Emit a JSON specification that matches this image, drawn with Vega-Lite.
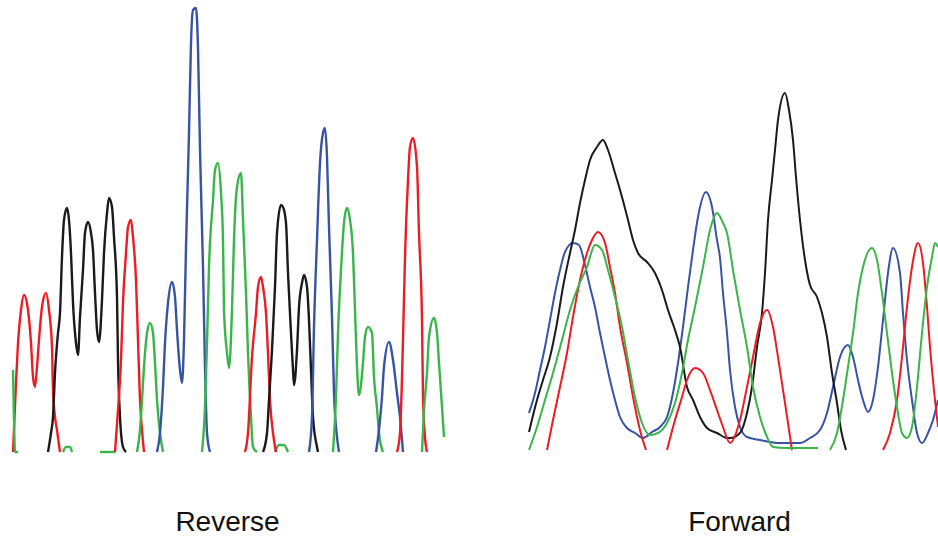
{
 "$schema": "https://vega.github.io/schema/vega-lite/v6.json",
 "background": "white",
 "padding": {"left": 10, "top": 5, "right": 0, "bottom": 0},
 "spacing": 82,
 "config": {"view": {"stroke": null}, "title": {"font": "Liberation Sans", "fontSize": 28, "fontWeight": "normal", "color": "#111111"}},
 "datasets": {
  "reverse": [
   {"t":"r1","d":"red","x":3,"y":3},{"t":"r1","d":"red","x":6,"y":72},{"t":"r1","d":"red","x":8,"y":112},{"t":"r1","d":"red","x":11,"y":145},{"t":"r1","d":"red","x":14,"y":160},{"t":"r1","d":"red","x":18,"y":145},{"t":"r1","d":"red","x":21,"y":112},{"t":"r1","d":"red","x":23,"y":78},{"t":"r1","d":"red","x":25,"y":68},{"t":"r1","d":"red","x":27,"y":88},{"t":"r1","d":"red","x":29,"y":115},{"t":"r1","d":"red","x":32,"y":148},{"t":"r1","d":"red","x":36,"y":162},{"t":"r1","d":"red","x":39,"y":145},{"t":"r1","d":"red","x":42,"y":108},{"t":"r1","d":"red","x":43,"y":65},{"t":"r1","d":"red","x":45,"y":38},{"t":"r1","d":"red","x":47,"y":25},{"t":"r1","d":"red","x":50,"y":3},
   {"t":"g1","d":"green","x":3,"y":85},{"t":"g1","d":"green","x":4,"y":35},{"t":"g1","d":"green","x":5,"y":3},{"t":"g1","d":"green","x":8,"y":3},
   {"t":"k1","d":"black","x":38,"y":3},{"t":"k1","d":"black","x":41,"y":22},{"t":"k1","d":"black","x":43,"y":38},{"t":"k1","d":"black","x":45,"y":82},{"t":"k1","d":"black","x":48,"y":122},{"t":"k1","d":"black","x":50,"y":142},{"t":"k1","d":"black","x":52,"y":198},{"t":"k1","d":"black","x":54,"y":235},{"t":"k1","d":"black","x":57,"y":247},{"t":"k1","d":"black","x":59,"y":235},{"t":"k1","d":"black","x":61,"y":202},{"t":"k1","d":"black","x":63,"y":152},{"t":"k1","d":"black","x":66,"y":112},{"t":"k1","d":"black","x":68,"y":100},{"t":"k1","d":"black","x":70,"y":138},{"t":"k1","d":"black","x":73,"y":185},{"t":"k1","d":"black","x":75,"y":222},{"t":"k1","d":"black","x":78,"y":233},{"t":"k1","d":"black","x":81,"y":222},{"t":"k1","d":"black","x":83,"y":205},{"t":"k1","d":"black","x":85,"y":162},{"t":"k1","d":"black","x":87,"y":125},{"t":"k1","d":"black","x":89,"y":113},{"t":"k1","d":"black","x":92,"y":155},{"t":"k1","d":"black","x":94,"y":202},{"t":"k1","d":"black","x":97,"y":242},{"t":"k1","d":"black","x":99,"y":257},{"t":"k1","d":"black","x":102,"y":248},{"t":"k1","d":"black","x":104,"y":218},{"t":"k1","d":"black","x":107,"y":158},{"t":"k1","d":"black","x":108,"y":95},{"t":"k1","d":"black","x":110,"y":38},{"t":"k1","d":"black","x":113,"y":8},{"t":"k1","d":"black","x":116,"y":3},
   {"t":"g2","d":"green","x":53,"y":3},{"t":"g2","d":"green","x":56,"y":8},{"t":"g2","d":"green","x":60,"y":8},{"t":"g2","d":"green","x":62,"y":3},
   {"t":"g3","d":"green","x":90,"y":3},{"t":"g3","d":"green","x":105,"y":3},
   {"t":"r2","d":"red","x":105,"y":3},{"t":"r2","d":"red","x":108,"y":45},{"t":"r2","d":"red","x":111,"y":95},{"t":"r2","d":"red","x":113,"y":152},{"t":"r2","d":"red","x":116,"y":202},{"t":"r2","d":"red","x":118,"y":228},{"t":"r2","d":"red","x":121,"y":235},{"t":"r2","d":"red","x":123,"y":218},{"t":"r2","d":"red","x":126,"y":175},{"t":"r2","d":"red","x":128,"y":115},{"t":"r2","d":"red","x":130,"y":55},{"t":"r2","d":"red","x":132,"y":25},{"t":"r2","d":"red","x":134,"y":3},
   {"t":"g4","d":"green","x":127,"y":3},{"t":"g4","d":"green","x":130,"y":25},{"t":"g4","d":"green","x":132,"y":55},{"t":"g4","d":"green","x":134,"y":88},{"t":"g4","d":"green","x":137,"y":122},{"t":"g4","d":"green","x":140,"y":132},{"t":"g4","d":"green","x":143,"y":122},{"t":"g4","d":"green","x":145,"y":92},{"t":"g4","d":"green","x":147,"y":55},{"t":"g4","d":"green","x":150,"y":22},{"t":"g4","d":"green","x":153,"y":3},
   {"t":"b1","d":"blue","x":147,"y":3},{"t":"b1","d":"blue","x":150,"y":22},{"t":"b1","d":"blue","x":153,"y":68},{"t":"b1","d":"blue","x":155,"y":112},{"t":"b1","d":"blue","x":158,"y":152},{"t":"b1","d":"blue","x":162,"y":173},{"t":"b1","d":"blue","x":165,"y":158},{"t":"b1","d":"blue","x":167,"y":125},{"t":"b1","d":"blue","x":170,"y":85},{"t":"b1","d":"blue","x":172,"y":72},{"t":"b1","d":"blue","x":174,"y":115},{"t":"b1","d":"blue","x":176,"y":208},{"t":"b1","d":"blue","x":179,"y":322},{"t":"b1","d":"blue","x":181,"y":412},{"t":"b1","d":"blue","x":183,"y":445},{"t":"b1","d":"blue","x":186,"y":447},{"t":"b1","d":"blue","x":188,"y":407},{"t":"b1","d":"blue","x":190,"y":305},{"t":"b1","d":"blue","x":193,"y":188},{"t":"b1","d":"blue","x":195,"y":88},{"t":"b1","d":"blue","x":197,"y":22},{"t":"b1","d":"blue","x":200,"y":3},
   {"t":"g5","d":"green","x":192,"y":3},{"t":"g5","d":"green","x":195,"y":48},{"t":"g5","d":"green","x":197,"y":112},{"t":"g5","d":"green","x":199,"y":188},{"t":"g5","d":"green","x":203,"y":255},{"t":"g5","d":"green","x":205,"y":285},{"t":"g5","d":"green","x":208,"y":292},{"t":"g5","d":"green","x":211,"y":262},{"t":"g5","d":"green","x":213,"y":215},{"t":"g5","d":"green","x":214,"y":145},{"t":"g5","d":"green","x":217,"y":102},{"t":"g5","d":"green","x":219,"y":87},{"t":"g5","d":"green","x":222,"y":145},{"t":"g5","d":"green","x":224,"y":215},{"t":"g5","d":"green","x":227,"y":268},{"t":"g5","d":"green","x":231,"y":282},{"t":"g5","d":"green","x":233,"y":235},{"t":"g5","d":"green","x":236,"y":162},{"t":"g5","d":"green","x":238,"y":102},{"t":"g5","d":"green","x":241,"y":38},{"t":"g5","d":"green","x":243,"y":8},{"t":"g5","d":"green","x":247,"y":3},
   {"t":"g6","d":"green","x":265,"y":3},{"t":"g6","d":"green","x":269,"y":10},{"t":"g6","d":"green","x":274,"y":10},{"t":"g6","d":"green","x":278,"y":3},
   {"t":"r3","d":"red","x":235,"y":3},{"t":"r3","d":"red","x":238,"y":22},{"t":"r3","d":"red","x":242,"y":98},{"t":"r3","d":"red","x":246,"y":142},{"t":"r3","d":"red","x":248,"y":168},{"t":"r3","d":"red","x":251,"y":178},{"t":"r3","d":"red","x":253,"y":168},{"t":"r3","d":"red","x":256,"y":142},{"t":"r3","d":"red","x":258,"y":102},{"t":"r3","d":"red","x":260,"y":55},{"t":"r3","d":"red","x":263,"y":22},{"t":"r3","d":"red","x":266,"y":3},
   {"t":"k2","d":"black","x":253,"y":3},{"t":"k2","d":"black","x":257,"y":22},{"t":"k2","d":"black","x":259,"y":55},{"t":"k2","d":"black","x":262,"y":105},{"t":"k2","d":"black","x":265,"y":168},{"t":"k2","d":"black","x":267,"y":222},{"t":"k2","d":"black","x":271,"y":250},{"t":"k2","d":"black","x":273,"y":248},{"t":"k2","d":"black","x":276,"y":232},{"t":"k2","d":"black","x":278,"y":182},{"t":"k2","d":"black","x":281,"y":122},{"t":"k2","d":"black","x":283,"y":85},{"t":"k2","d":"black","x":284,"y":70},{"t":"k2","d":"black","x":287,"y":105},{"t":"k2","d":"black","x":289,"y":148},{"t":"k2","d":"black","x":292,"y":172},{"t":"k2","d":"black","x":294,"y":180},{"t":"k2","d":"black","x":297,"y":168},{"t":"k2","d":"black","x":299,"y":135},{"t":"k2","d":"black","x":301,"y":85},{"t":"k2","d":"black","x":303,"y":38},{"t":"k2","d":"black","x":307,"y":8},{"t":"k2","d":"black","x":308,"y":3},
   {"t":"b2","d":"blue","x":299,"y":3},{"t":"b2","d":"blue","x":302,"y":38},{"t":"b2","d":"blue","x":304,"y":128},{"t":"b2","d":"blue","x":307,"y":215},{"t":"b2","d":"blue","x":310,"y":292},{"t":"b2","d":"blue","x":313,"y":322},{"t":"b2","d":"blue","x":315,"y":327},{"t":"b2","d":"blue","x":317,"y":298},{"t":"b2","d":"blue","x":319,"y":228},{"t":"b2","d":"blue","x":322,"y":138},{"t":"b2","d":"blue","x":324,"y":62},{"t":"b2","d":"blue","x":327,"y":18},{"t":"b2","d":"blue","x":329,"y":3},
   {"t":"g7","d":"green","x":323,"y":3},{"t":"g7","d":"green","x":326,"y":58},{"t":"g7","d":"green","x":328,"y":122},{"t":"g7","d":"green","x":331,"y":185},{"t":"g7","d":"green","x":334,"y":232},{"t":"g7","d":"green","x":337,"y":247},{"t":"g7","d":"green","x":340,"y":235},{"t":"g7","d":"green","x":343,"y":202},{"t":"g7","d":"green","x":345,"y":145},{"t":"g7","d":"green","x":347,"y":88},{"t":"g7","d":"green","x":349,"y":60},{"t":"g7","d":"green","x":353,"y":92},{"t":"g7","d":"green","x":355,"y":118},{"t":"g7","d":"green","x":358,"y":128},{"t":"g7","d":"green","x":362,"y":122},{"t":"g7","d":"green","x":364,"y":78},{"t":"g7","d":"green","x":367,"y":47},{"t":"g7","d":"green","x":369,"y":22},{"t":"g7","d":"green","x":373,"y":3},
   {"t":"b3","d":"blue","x":366,"y":3},{"t":"b3","d":"blue","x":369,"y":25},{"t":"b3","d":"blue","x":372,"y":58},{"t":"b3","d":"blue","x":374,"y":88},{"t":"b3","d":"blue","x":379,"y":113},{"t":"b3","d":"blue","x":383,"y":95},{"t":"b3","d":"blue","x":387,"y":62},{"t":"b3","d":"blue","x":390,"y":38},{"t":"b3","d":"blue","x":393,"y":3},
   {"t":"r4","d":"red","x":387,"y":3},{"t":"r4","d":"red","x":390,"y":22},{"t":"r4","d":"red","x":393,"y":115},{"t":"r4","d":"red","x":395,"y":198},{"t":"r4","d":"red","x":398,"y":275},{"t":"r4","d":"red","x":400,"y":308},{"t":"r4","d":"red","x":403,"y":317},{"t":"r4","d":"red","x":407,"y":288},{"t":"r4","d":"red","x":409,"y":222},{"t":"r4","d":"red","x":412,"y":135},{"t":"r4","d":"red","x":413,"y":60},{"t":"r4","d":"red","x":415,"y":18},{"t":"r4","d":"red","x":417,"y":3},
   {"t":"g8","d":"green","x":412,"y":3},{"t":"g8","d":"green","x":414,"y":45},{"t":"g8","d":"green","x":417,"y":82},{"t":"g8","d":"green","x":419,"y":118},{"t":"g8","d":"green","x":424,"y":137},{"t":"g8","d":"green","x":427,"y":122},{"t":"g8","d":"green","x":429,"y":92},{"t":"g8","d":"green","x":432,"y":48},{"t":"g8","d":"green","x":434,"y":18}
  ],
  "forward": [
   {"t":"b1","d":"blue","x":2,"y":42},{"t":"b1","d":"blue","x":8,"y":62},{"t":"b1","d":"blue","x":13,"y":85},{"t":"b1","d":"blue","x":18,"y":108},{"t":"b1","d":"blue","x":23,"y":135},{"t":"b1","d":"blue","x":28,"y":162},{"t":"b1","d":"blue","x":33,"y":185},{"t":"b1","d":"blue","x":38,"y":203},{"t":"b1","d":"blue","x":46,"y":212},{"t":"b1","d":"blue","x":52,"y":210},{"t":"b1","d":"blue","x":58,"y":190},{"t":"b1","d":"blue","x":63,"y":168},{"t":"b1","d":"blue","x":68,"y":148},{"t":"b1","d":"blue","x":73,"y":122},{"t":"b1","d":"blue","x":78,"y":98},{"t":"b1","d":"blue","x":83,"y":75},{"t":"b1","d":"blue","x":88,"y":55},{"t":"b1","d":"blue","x":93,"y":38},{"t":"b1","d":"blue","x":100,"y":27},{"t":"b1","d":"blue","x":108,"y":22},{"t":"b1","d":"blue","x":116,"y":17},{"t":"b1","d":"blue","x":125,"y":23},{"t":"b1","d":"blue","x":133,"y":28},{"t":"b1","d":"blue","x":140,"y":38},{"t":"b1","d":"blue","x":146,"y":62},{"t":"b1","d":"blue","x":151,"y":92},{"t":"b1","d":"blue","x":156,"y":128},{"t":"b1","d":"blue","x":161,"y":168},{"t":"b1","d":"blue","x":166,"y":205},{"t":"b1","d":"blue","x":171,"y":238},{"t":"b1","d":"blue","x":179,"y":263},{"t":"b1","d":"blue","x":185,"y":248},{"t":"b1","d":"blue","x":190,"y":215},{"t":"b1","d":"blue","x":193,"y":197},{"t":"b1","d":"blue","x":196,"y":162},{"t":"b1","d":"blue","x":200,"y":122},{"t":"b1","d":"blue","x":203,"y":85},{"t":"b1","d":"blue","x":208,"y":48},{"t":"b1","d":"blue","x":213,"y":28},{"t":"b1","d":"blue","x":220,"y":18},{"t":"b1","d":"blue","x":233,"y":15},{"t":"b1","d":"blue","x":253,"y":12},{"t":"b1","d":"blue","x":273,"y":12},{"t":"b1","d":"blue","x":283,"y":17},{"t":"b1","d":"blue","x":293,"y":25},{"t":"b1","d":"blue","x":300,"y":42},{"t":"b1","d":"blue","x":306,"y":68},{"t":"b1","d":"blue","x":313,"y":98},{"t":"b1","d":"blue","x":321,"y":110},{"t":"b1","d":"blue","x":326,"y":98},{"t":"b1","d":"blue","x":331,"y":75},{"t":"b1","d":"blue","x":336,"y":55},{"t":"b1","d":"blue","x":341,"y":43},{"t":"b1","d":"blue","x":346,"y":55},{"t":"b1","d":"blue","x":351,"y":88},{"t":"b1","d":"blue","x":356,"y":135},{"t":"b1","d":"blue","x":361,"y":182},{"t":"b1","d":"blue","x":366,"y":207},{"t":"b1","d":"blue","x":373,"y":182},{"t":"b1","d":"blue","x":376,"y":142},{"t":"b1","d":"blue","x":380,"y":95},{"t":"b1","d":"blue","x":385,"y":55},{"t":"b1","d":"blue","x":390,"y":22},{"t":"b1","d":"blue","x":395,"y":12},{"t":"b1","d":"blue","x":401,"y":22},{"t":"b1","d":"blue","x":406,"y":35},{"t":"b1","d":"blue","x":411,"y":55},
   {"t":"k1","d":"black","x":2,"y":23},{"t":"k1","d":"black","x":10,"y":55},{"t":"k1","d":"black","x":16,"y":75},{"t":"k1","d":"black","x":23,"y":98},{"t":"k1","d":"black","x":30,"y":132},{"t":"k1","d":"black","x":36,"y":168},{"t":"k1","d":"black","x":43,"y":202},{"t":"k1","d":"black","x":48,"y":225},{"t":"k1","d":"black","x":53,"y":252},{"t":"k1","d":"black","x":58,"y":275},{"t":"k1","d":"black","x":63,"y":295},{"t":"k1","d":"black","x":70,"y":308},{"t":"k1","d":"black","x":76,"y":315},{"t":"k1","d":"black","x":81,"y":305},{"t":"k1","d":"black","x":88,"y":282},{"t":"k1","d":"black","x":95,"y":258},{"t":"k1","d":"black","x":101,"y":235},{"t":"k1","d":"black","x":106,"y":215},{"t":"k1","d":"black","x":111,"y":202},{"t":"k1","d":"black","x":120,"y":193},{"t":"k1","d":"black","x":128,"y":182},{"t":"k1","d":"black","x":135,"y":165},{"t":"k1","d":"black","x":141,"y":145},{"t":"k1","d":"black","x":148,"y":125},{"t":"k1","d":"black","x":153,"y":108},{"t":"k1","d":"black","x":160,"y":68},{"t":"k1","d":"black","x":166,"y":55},{"t":"k1","d":"black","x":173,"y":38},{"t":"k1","d":"black","x":180,"y":27},{"t":"k1","d":"black","x":190,"y":22},{"t":"k1","d":"black","x":200,"y":17},{"t":"k1","d":"black","x":203,"y":17},{"t":"k1","d":"black","x":213,"y":22},{"t":"k1","d":"black","x":220,"y":42},{"t":"k1","d":"black","x":225,"y":68},{"t":"k1","d":"black","x":230,"y":108},{"t":"k1","d":"black","x":235,"y":142},{"t":"k1","d":"black","x":238,"y":182},{"t":"k1","d":"black","x":241,"y":235},{"t":"k1","d":"black","x":245,"y":275},{"t":"k1","d":"black","x":248,"y":305},{"t":"k1","d":"black","x":251,"y":335},{"t":"k1","d":"black","x":258,"y":362},{"t":"k1","d":"black","x":262,"y":345},{"t":"k1","d":"black","x":266,"y":315},{"t":"k1","d":"black","x":269,"y":278},{"t":"k1","d":"black","x":273,"y":235},{"t":"k1","d":"black","x":278,"y":195},{"t":"k1","d":"black","x":283,"y":170},{"t":"k1","d":"black","x":290,"y":158},{"t":"k1","d":"black","x":295,"y":142},{"t":"k1","d":"black","x":300,"y":118},{"t":"k1","d":"black","x":305,"y":82},{"t":"k1","d":"black","x":310,"y":52},{"t":"k1","d":"black","x":314,"y":25},{"t":"k1","d":"black","x":319,"y":5},
   {"t":"r1","d":"red","x":20,"y":5},{"t":"r1","d":"red","x":26,"y":35},{"t":"r1","d":"red","x":33,"y":68},{"t":"r1","d":"red","x":40,"y":102},{"t":"r1","d":"red","x":46,"y":138},{"t":"r1","d":"red","x":53,"y":175},{"t":"r1","d":"red","x":60,"y":202},{"t":"r1","d":"red","x":65,"y":215},{"t":"r1","d":"red","x":71,"y":223},{"t":"r1","d":"red","x":78,"y":212},{"t":"r1","d":"red","x":83,"y":188},{"t":"r1","d":"red","x":88,"y":162},{"t":"r1","d":"red","x":93,"y":128},{"t":"r1","d":"red","x":100,"y":92},{"t":"r1","d":"red","x":106,"y":58},{"t":"r1","d":"red","x":113,"y":25},{"t":"r1","d":"red","x":119,"y":5},
   {"t":"r2","d":"red","x":140,"y":5},{"t":"r2","d":"red","x":148,"y":35},{"t":"r2","d":"red","x":155,"y":58},{"t":"r2","d":"red","x":160,"y":75},{"t":"r2","d":"red","x":168,"y":87},{"t":"r2","d":"red","x":176,"y":82},{"t":"r2","d":"red","x":183,"y":65},{"t":"r2","d":"red","x":190,"y":45},{"t":"r2","d":"red","x":196,"y":28},{"t":"r2","d":"red","x":203,"y":12},{"t":"r2","d":"red","x":213,"y":35},{"t":"r2","d":"red","x":220,"y":68},{"t":"r2","d":"red","x":226,"y":98},{"t":"r2","d":"red","x":233,"y":132},{"t":"r2","d":"red","x":240,"y":145},{"t":"r2","d":"red","x":246,"y":128},{"t":"r2","d":"red","x":251,"y":98},{"t":"r2","d":"red","x":256,"y":65},{"t":"r2","d":"red","x":261,"y":32},{"t":"r2","d":"red","x":265,"y":5},
   {"t":"r3","d":"red","x":356,"y":5},{"t":"r3","d":"red","x":363,"y":22},{"t":"r3","d":"red","x":370,"y":55},{"t":"r3","d":"red","x":375,"y":98},{"t":"r3","d":"red","x":380,"y":148},{"t":"r3","d":"red","x":385,"y":188},{"t":"r3","d":"red","x":391,"y":212},{"t":"r3","d":"red","x":396,"y":192},{"t":"r3","d":"red","x":400,"y":148},{"t":"r3","d":"red","x":403,"y":108},{"t":"r3","d":"red","x":408,"y":55},{"t":"r3","d":"red","x":411,"y":28},
   {"t":"g1","d":"green","x":2,"y":5},{"t":"g1","d":"green","x":10,"y":28},{"t":"g1","d":"green","x":18,"y":55},{"t":"g1","d":"green","x":26,"y":82},{"t":"g1","d":"green","x":35,"y":115},{"t":"g1","d":"green","x":43,"y":145},{"t":"g1","d":"green","x":51,"y":168},{"t":"g1","d":"green","x":60,"y":188},{"t":"g1","d":"green","x":68,"y":210},{"t":"g1","d":"green","x":75,"y":205},{"t":"g1","d":"green","x":81,"y":185},{"t":"g1","d":"green","x":88,"y":158},{"t":"g1","d":"green","x":95,"y":128},{"t":"g1","d":"green","x":101,"y":95},{"t":"g1","d":"green","x":108,"y":58},{"t":"g1","d":"green","x":115,"y":32},{"t":"g1","d":"green","x":123,"y":20},{"t":"g1","d":"green","x":131,"y":22},{"t":"g1","d":"green","x":140,"y":32},{"t":"g1","d":"green","x":148,"y":52},{"t":"g1","d":"green","x":155,"y":82},{"t":"g1","d":"green","x":161,"y":115},{"t":"g1","d":"green","x":168,"y":148},{"t":"g1","d":"green","x":176,"y":188},{"t":"g1","d":"green","x":183,"y":225},{"t":"g1","d":"green","x":190,"y":242},{"t":"g1","d":"green","x":196,"y":232},{"t":"g1","d":"green","x":200,"y":222},{"t":"g1","d":"green","x":206,"y":185},{"t":"g1","d":"green","x":213,"y":145},{"t":"g1","d":"green","x":220,"y":108},{"t":"g1","d":"green","x":226,"y":68},{"t":"g1","d":"green","x":233,"y":38},{"t":"g1","d":"green","x":240,"y":18},{"t":"g1","d":"green","x":246,"y":8},{"t":"g1","d":"green","x":260,"y":7},{"t":"g1","d":"green","x":291,"y":7},
   {"t":"g2","d":"green","x":303,"y":5},{"t":"g2","d":"green","x":310,"y":22},{"t":"g2","d":"green","x":316,"y":55},{"t":"g2","d":"green","x":321,"y":88},{"t":"g2","d":"green","x":326,"y":122},{"t":"g2","d":"green","x":331,"y":162},{"t":"g2","d":"green","x":336,"y":188},{"t":"g2","d":"green","x":345,"y":207},{"t":"g2","d":"green","x":350,"y":195},{"t":"g2","d":"green","x":355,"y":162},{"t":"g2","d":"green","x":360,"y":122},{"t":"g2","d":"green","x":365,"y":82},{"t":"g2","d":"green","x":370,"y":48},{"t":"g2","d":"green","x":375,"y":22},{"t":"g2","d":"green","x":380,"y":17},{"t":"g2","d":"green","x":385,"y":28},{"t":"g2","d":"green","x":390,"y":68},{"t":"g2","d":"green","x":395,"y":122},{"t":"g2","d":"green","x":400,"y":168},{"t":"g2","d":"green","x":405,"y":198},{"t":"g2","d":"green","x":408,"y":212},{"t":"g2","d":"green","x":411,"y":208}
  ]
 },
 "hconcat": [
  {
   "width": 435, "height": 450,
   "data": {"name": "reverse"},
   "title": {"text": "Reverse", "orient": "bottom", "offset": 54, "baseline": "top"},
   "mark": {"type": "line", "strokeWidth": 2.4, "interpolate": "monotone", "clip": true},
   "encoding": {
    "x": {"field": "x", "type": "quantitative", "scale": {"domain": [0, 435], "nice": false, "zero": false}, "axis": null},
    "y": {"field": "y", "type": "quantitative", "scale": {"domain": [0, 450], "nice": false}, "axis": null},
    "color": {"field": "d", "type": "nominal", "scale": {"domain": ["black", "red", "green", "blue"], "range": ["#1a1a1a", "#ed1c24", "#39b54a", "#3953a4"]}, "legend": null},
    "detail": {"field": "t"}
   }
  },
  {
   "width": 411, "height": 450,
   "data": {"name": "forward"},
   "title": {"text": "Forward", "orient": "bottom", "offset": 54, "baseline": "top", "dx": 7},
   "mark": {"type": "line", "strokeWidth": 2, "interpolate": "monotone", "clip": true},
   "encoding": {
    "x": {"field": "x", "type": "quantitative", "scale": {"domain": [0, 411], "nice": false, "zero": false}, "axis": null},
    "y": {"field": "y", "type": "quantitative", "scale": {"domain": [0, 450], "nice": false}, "axis": null},
    "color": {"field": "d", "type": "nominal", "scale": {"domain": ["black", "red", "green", "blue"], "range": ["#1a1a1a", "#ed1c24", "#39b54a", "#3953a4"]}, "legend": null},
    "detail": {"field": "t"}
   }
  }
 ]
}
